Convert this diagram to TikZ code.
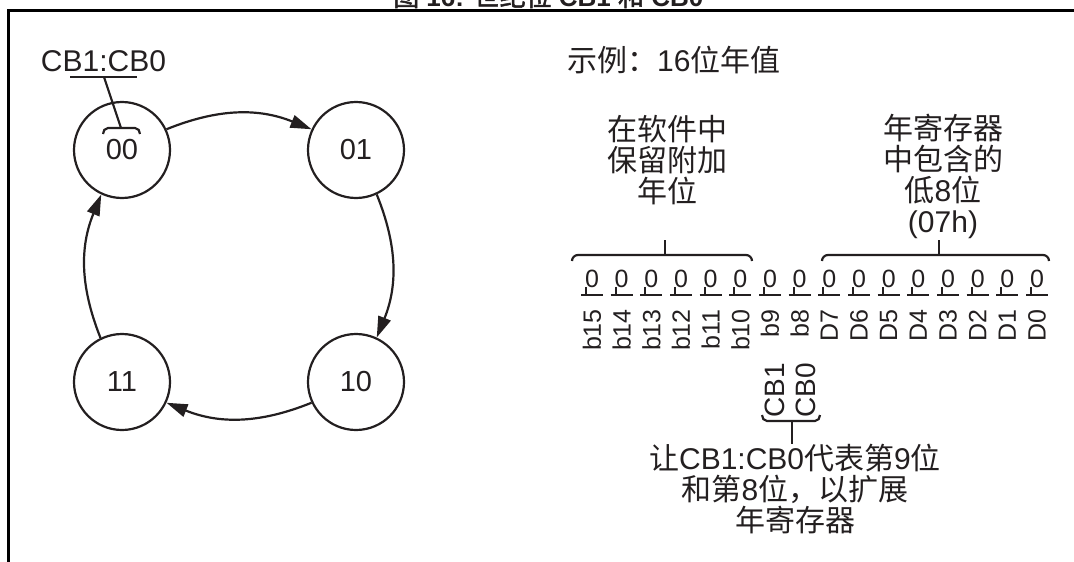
\documentclass[tikz,border=0pt]{standalone}
\usepackage{fontspec}
\setmainfont{Liberation Sans}
\newfontfamily\cjk{Noto Sans CJK SC}[AutoFakeBold=2]
\usetikzlibrary{arrows.meta}
\definecolor{ink}{HTML}{231F20}
\begin{document}
\begin{tikzpicture}[x=1pt,y=-1pt,
  state/.style={circle, draw=ink, line width=2.2pt, minimum size=96pt, inner sep=0pt, font=\fontsize{29}{31}\selectfont, text=ink},
  flow/.style={draw=ink, line width=2.2pt, -{Triangle[length=21pt,width=13pt]}},
  lbl/.style={text=ink, inner sep=0pt, font=\fontsize{30}{31}\selectfont, align=center},
  bit/.style={text=ink, inner sep=0pt, font=\fontsize{25}{27}\selectfont},
  thinln/.style={draw=ink, line width=2pt},
  brace/.style={draw=ink, line width=2.2pt}]
\useasboundingbox (0,0) rectangle (1074,562);
\clip (0,0) rectangle (1074,562);
% title (cut off at top, as in the reference)
\node[anchor=base west, inner sep=0pt, text=ink, font=\bfseries\fontsize{26}{28}\selectfont] (title) at (393,6) {{\cjk 图} 16: {\cjk 世纪位} CB1 {\cjk 和} CB0};
% frame
\draw[line width=3pt] (8.5,570) -- (8.5,10.5) -- (1080,10.5);
% state circles
\node[state] (s00) at (122,150) {00};
\node[state] (s01) at (356,150) {01};
\node[state] (s10) at (356,382) {10};
\node[state] (s11) at (122,382) {11};
\draw[flow] (s00.25) to[bend left=22] (s01.155);
\draw[flow] (s01.-65) to[bend left=22] (s10.65);
\draw[flow] (s10.205) to[bend left=22] (s11.-25);
\draw[flow] (s11.116) to[bend left=22] (s00.245);
% CB1:CB0 label
\node[lbl] (cb) at (103.5,61) {CB1:CB0};
\coordinate (ul) at (104,77);
\coordinate (br) at (121,128);
\draw[brace] (70,77) -- (137,77);
\draw[brace] (ul) -- (br);
\draw[brace] (103,134) to[out=90,in=180] (108,128) -- (135,128) to[out=0,in=90] (140,134);
% right side texts
\node[lbl, anchor=west] (ex) at (567,60) {{\cjk 示例：}16{\cjk 位年值}};
\node[lbl] (soft) at (667,160) {{\cjk 在软件中}\\{\cjk 保留附加}\\{\cjk 年位}};
\node[lbl] (yreg) at (943,176) {{\cjk 年寄存器}\\{\cjk 中包含的}\\{\cjk 低}8{\cjk 位}\\(07h)};
% braces
\draw[brace] (572,261) to[out=90,in=180] (578,255) -- (746,255) to[out=0,in=90] (752,261);
\coordinate (lt) at (665,255);
\coordinate (lt2) at (665,240);
\draw[brace] (lt) -- (lt2);
\draw[brace] (822,261) to[out=90,in=180] (828,255) -- (1043,255) to[out=0,in=90] (1049,261);
\coordinate (rt) at (939,255);
\coordinate (rt2) at (939,240);
\draw[brace] (rt) -- (rt2);
% bit row
\foreach \lab [count=\i from 0] in {b15,b14,b13,b12,b11,b10,b9,b8,D7,D6,D5,D4,D3,D2,D1,D0} {
  \pgfmathsetmacro\xx{592+29.67*\i}
  \node[bit] (v\i) at (\xx,279) {0};
  \draw[thinln] ({\xx-11},295) -- ({\xx+11},295);
  \draw[thinln] ({\xx-6},287) -- ({\xx-6},295);
  \node[bit, rotate=90, anchor=east] (l\i) at (\xx,309) {\lab};
}
% CB1 / CB0
\node[text=ink, inner sep=0pt, font=\fontsize{28}{30}\selectfont, rotate=90, anchor=west] (cb1) at (775,418) {CB1};
\node[text=ink, inner sep=0pt, font=\fontsize{28}{30}\selectfont, rotate=90, anchor=west] (cb0) at (806,418) {CB0};
\draw[brace] (762,415) to[out=-90,in=180] (767,421) -- (815,421) to[out=0,in=-90] (820,415);
\node[lbl] (note) at (795,489) {{\cjk 让}CB1:CB0{\cjk 代表第}9{\cjk 位}\\{\cjk 和第}8{\cjk 位，以扩展}\\{\cjk 年寄存器}};
\coordinate (ct) at (792,421);
\draw[brace] (ct) -- (note.north -| ct);
\end{tikzpicture}
\end{document}
